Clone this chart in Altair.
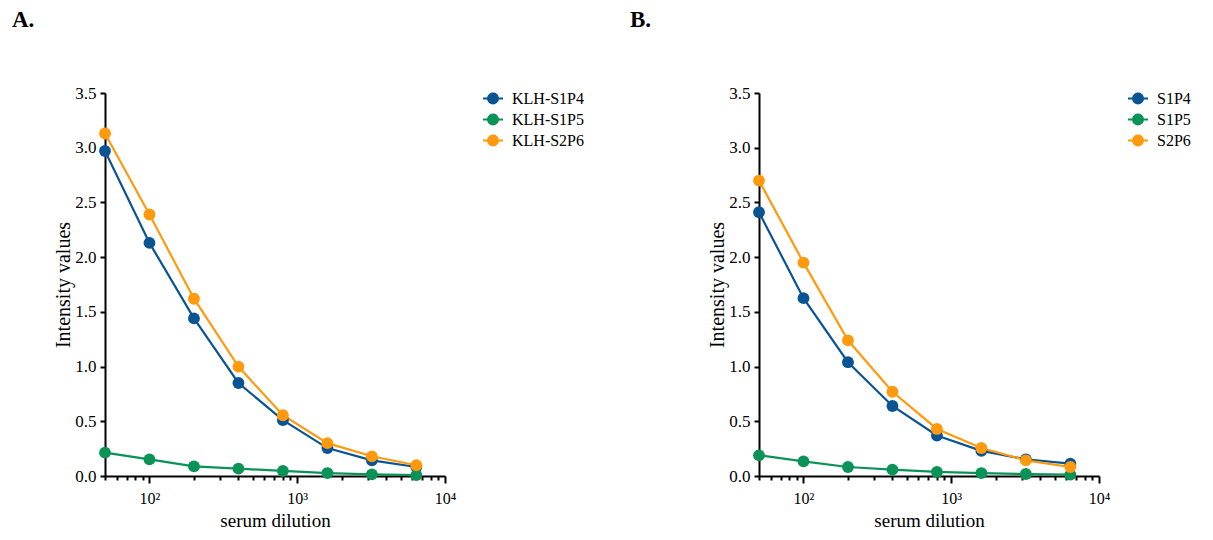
import altair as alt
import pandas as pd

dilution = [50, 100, 200, 400, 800, 1600, 3200, 6400]

# Panel A
a_names = ["KLH-S1P4", "KLH-S1P5", "KLH-S2P6"]
a_s1p4 = [2.97, 2.13, 1.44, 0.85, 0.51, 0.255, 0.143, 0.082]
a_s1p5 = [0.213, 0.152, 0.088, 0.067, 0.046, 0.027, 0.015, 0.008]
a_s2p6 = [3.13, 2.39, 1.62, 1.00, 0.555, 0.30, 0.18, 0.098]

# Panel B
b_names = ["S1P4", "S1P5", "S2P6"]
b_s1p4 = [2.41, 1.625, 1.04, 0.64, 0.37, 0.23, 0.152, 0.113]
b_s1p5 = [0.189, 0.134, 0.082, 0.058, 0.037, 0.027, 0.018, 0.012]
b_s2p6 = [2.70, 1.95, 1.24, 0.77, 0.43, 0.256, 0.143, 0.082]

colors = ["#0b5494", "#0a9356", "#ff9a0e"]

x_ticks = [50, 60, 70, 80, 90, 100, 200, 300, 400, 500, 600, 700, 800, 900,
           1000, 2000, 3000, 4000, 5000, 6000, 7000, 8000, 9000, 10000]
y_ticks = [0, 0.5, 1.0, 1.5, 2.0, 2.5, 3.0, 3.5]

FONT = "Liberation Serif"


def make_df(names, series):
    rows = []
    for name, vals in zip(names, series):
        for d, v in zip(dilution, vals):
            rows.append({"dilution": d, "value": v, "series": name})
    return pd.DataFrame(rows)


legend_path = ("M-1,-0.11H-0.5899A0.6,0.6,0,0,1,0.5899,-0.11H1V0.11H0.5899"
               "A0.6,0.6,0,0,1,-0.5899,0.11H-1Z")


def panel(df, names, label, legend_x, title_dx):
    x = alt.X(
        "dilution:Q",
        scale=alt.Scale(type="log", domain=[50, 10000], nice=False),
        axis=alt.Axis(
            title="serum dilution",
            values=x_ticks,
            labelExpr="datum.value == 100 ? '10²' : datum.value == 1000 ? '10³' : datum.value == 10000 ? '10⁴' : ''",
            tickSize={"condition": {"test": "datum.value == 100 || datum.value == 1000 || datum.value == 10000", "value": 7}, "value": 4},
            labelFlush=False,
            labelOverlap=False,
            labelPadding=7,
            titlePadding=5,
        ),
    )
    y = alt.Y(
        "value:Q",
        scale=alt.Scale(domain=[0, 3.5], nice=False),
        axis=alt.Axis(
            title="Intensity values",
            titleFontSize=20,
            labelFontSize=17,
            values=y_ticks,
            format=".1f",
            tickSize=5,
            labelPadding=4,
            titlePadding=1,
        ),
    )
    color = alt.Color(
        "series:N",
        scale=alt.Scale(domain=names, range=colors),
        legend=alt.Legend(
            title=None,
            orient="none",
            legendX=legend_x,
            legendY=-4.5,
            symbolType=legend_path,
            symbolSize=400,
            symbolStrokeWidth=0,
            labelFont=FONT,
            labelFontSize=16,
            labelColor="black",
            labelOffset=9,
            rowPadding=3,
        ),
    )
    base = alt.Chart(df).encode(x=x, y=y, color=color, order=alt.Order("dilution:Q"))
    lines = base.mark_line(strokeWidth=2.2)
    pts = base.mark_point(filled=True, size=140, opacity=1)
    return alt.layer(lines, pts).properties(
        width=340,
        height=383,
        title=alt.TitleParams(label, anchor="start", frame="group", dx=title_dx, offset=52.5,
                              fontSize=23, font=FONT, fontWeight="bold", color="black"),
    )


pa = panel(make_df(a_names, [a_s1p4, a_s1p5, a_s2p6]), a_names, "A.", 378, -93)
pb = panel(make_df(b_names, [b_s1p4, b_s1p5, b_s2p6]), b_names, "B.", 369, -129)

chart = alt.hconcat(pa, pb, spacing=45).resolve_scale(color="independent").configure(
    padding={"left": 4, "top": 0, "right": 0, "bottom": 0},
).configure_view(stroke=None).configure_axis(
    domainColor="black",
    domainWidth=2,
    tickColor="black",
    tickWidth=2,
    grid=False,
    labelFont=FONT,
    labelFontSize=16,
    labelColor="black",
    titleFont=FONT,
    titleFontSize=19,
    titleFontWeight="normal",
    titleColor="black",
)

chart.save("out.html", embed_options={"renderer": "svg", "actions": False})
